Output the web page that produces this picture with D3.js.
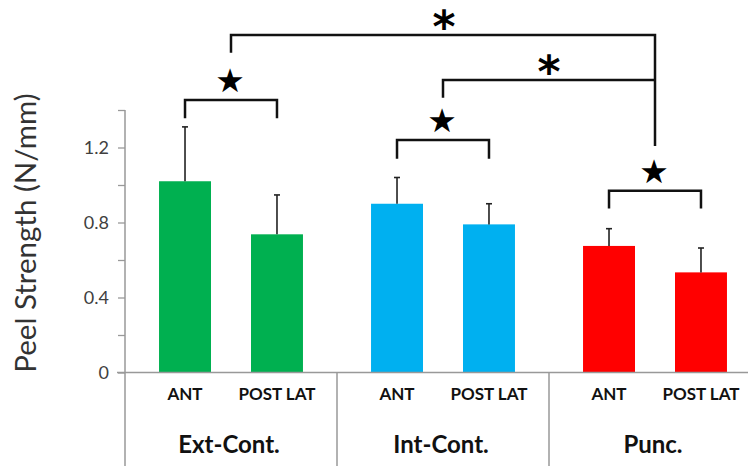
<!DOCTYPE html>
<html>
<head>
<meta charset="utf-8">
<script src="https://cdn.jsdelivr.net/npm/d3@7"></script>
<style>
  html, body { margin: 0; padding: 0; background: #fff; }
  svg { display: block; }
  text { font-family: Lato, "Open Sans", "DejaVu Sans", sans-serif; }
</style>
</head>
<body>
<svg id="chart" width="748" height="466"></svg>
<script>
// ---- data ----
const groups = ["Ext-Cont.", "Int-Cont.", "Punc."];
const sites = ["ANT", "POST LAT"];
const antMeans = [1.02, 0.90, 0.675];
const antSD = [0.29, 0.14, 0.092];
const postMeans = [0.737, 0.79, 0.534];
const postSD = [0.21, 0.11, 0.13];
const groupColors = ["#00b050", "#00b0f0", "#ff0000"];
const yTicks = [0, 0.2, 0.4, 0.6, 0.8, 1.0, 1.2, 1.4];
const yTickLabels = [0, 0.4, 0.8, 1.2];
const yLabel = "Peel Strength (N/mm)";

// ---- layout ----
const svg = d3.select("#chart");
const x0 = d3.scaleBand().domain(groups).range([125, 761]).padding(0);
const x1 = d3.scaleBand().domain(sites).range([0, x0.bandwidth()])
  .paddingInner(0.435).paddingOuter(0.37);
const y = d3.scaleLinear().domain([0, 1.4]).range([372.5, 110]);

const rows = [];
groups.forEach((g, i) => {
  rows.push({g, s: sites[0], m: antMeans[i], sd: antSD[i], c: groupColors[i]});
  rows.push({g, s: sites[1], m: postMeans[i], sd: postSD[i], c: groupColors[i]});
});
const cx = (g, s) => x0(g) + x1(s) + x1.bandwidth() / 2;

// bars
svg.append("g").selectAll("rect").data(rows).join("rect")
  .attr("x", d => x0(d.g) + x1(d.s))
  .attr("width", x1.bandwidth())
  .attr("y", d => y(d.m))
  .attr("height", d => y(0) - y(d.m))
  .attr("fill", d => d.c);

// error bars (upper only)
const eb = svg.append("g").attr("stroke", "#222").attr("stroke-width", 1.6);
eb.selectAll("line.v").data(rows).join("line").attr("class", "v")
  .attr("x1", d => cx(d.g, d.s)).attr("x2", d => cx(d.g, d.s))
  .attr("y1", d => y(d.m)).attr("y2", d => y(d.m + d.sd));
eb.selectAll("line.c").data(rows).join("line").attr("class", "c")
  .attr("x1", d => cx(d.g, d.s) - 3).attr("x2", d => cx(d.g, d.s) + 3)
  .attr("y1", d => y(d.m + d.sd)).attr("y2", d => y(d.m + d.sd));

// y axis
const yAxis = d3.axisLeft(y).tickValues(yTicks).tickSize(7)
  .tickFormat(d => yTickLabels.some(v => Math.abs(v - d) < 1e-9) ? (d === 0 ? "0" : d3.format(".1f")(d)) : "");
const ya = svg.append("g").attr("transform", "translate(125,0)").call(yAxis);
ya.select(".domain").remove();
ya.selectAll(".tick line").attr("stroke", "#999").attr("stroke-width", 1.3);
ya.selectAll(".tick text").attr("font-size", 18).attr("fill", "#404040").attr("x", -16)
  .style("font-family", "Lato, sans-serif");
svg.append("line").attr("x1", 125).attr("x2", 125).attr("y1", y(1.4)).attr("y2", 466)
  .attr("stroke", "#999").attr("stroke-width", 1.5);

// x axis line and separators
svg.append("line").attr("x1", 117).attr("x2", 748).attr("y1", y(0)).attr("y2", y(0))
  .attr("stroke", "#999").attr("stroke-width", 1.5);
svg.append("g").selectAll("line").data(groups.slice(1)).join("line")
  .attr("x1", d => x0(d)).attr("x2", d => x0(d))
  .attr("y1", y(0)).attr("y2", 466)
  .attr("stroke", "#999").attr("stroke-width", 1.5);

// site labels
svg.append("g").selectAll("text").data(rows).join("text")
  .attr("x", d => cx(d.g, d.s)).attr("y", 400)
  .attr("text-anchor", "middle").attr("font-size", 17).attr("font-weight", "bold")
  .attr("fill", "#111").text(d => d.s);
// group labels
svg.append("g").selectAll("text").data(groups).join("text")
  .attr("x", d => x0(d) + x0.bandwidth() / 2 - 2).attr("y", 453)
  .attr("text-anchor", "middle").attr("font-size", 24).attr("font-weight", "bold")
  .attr("fill", "#111").text(d => d);

// y label
svg.append("text").attr("transform", "translate(36,233) rotate(-90)")
  .attr("text-anchor", "middle").attr("font-size", 29.5).attr("fill", "#333")
  .text(yLabel);

// ---- significance brackets ----
const br = svg.append("g").attr("stroke", "#111").attr("stroke-width", 2.5).attr("fill", "none");
function bracket(g, top, leg) {
  const xa = cx(g, sites[0]), xb = cx(g, sites[1]);
  br.append("path").attr("d", `M${xa},${y(leg)}V${y(top)}H${xb}V${y(leg)}`);
  svg.append("text").attr("x", (xa + xb) / 2 - 1).attr("y", y(top) - 8)
    .attr("text-anchor", "middle").attr("font-size", 33).attr("fill", "#000")
    .style("font-family", "DejaVu Sans, sans-serif").text("★");
  return (xa + xb) / 2;
}
const xExt = bracket(groups[0], 1.453, 1.356);
const xInt = bracket(groups[1], 1.24, 1.14);
const xPunc = bracket(groups[2], 0.97, 0.875);

// long brackets to Punc.
br.append("path").attr("d", `M${xExt},${y(1.706)}V${y(1.8)}H${xPunc}V${y(1.208)}`);
br.append("path").attr("d", `M${xInt},${y(1.466)}V${y(1.56)}H${xPunc}`);
svg.append("text").attr("x", (xExt + xPunc) / 2 + 1).attr("y", y(1.8) + 7)
  .attr("text-anchor", "middle").attr("font-size", 44).attr("font-weight", "bold").attr("fill", "#000")
  .style("font-family", "DejaVu Sans, sans-serif").text("*");
svg.append("text").attr("x", (xInt + xPunc) / 2).attr("y", y(1.56) + 7)
  .attr("text-anchor", "middle").attr("font-size", 44).attr("font-weight", "bold").attr("fill", "#000")
  .style("font-family", "DejaVu Sans, sans-serif").text("*");
</script>
</body>
</html>
